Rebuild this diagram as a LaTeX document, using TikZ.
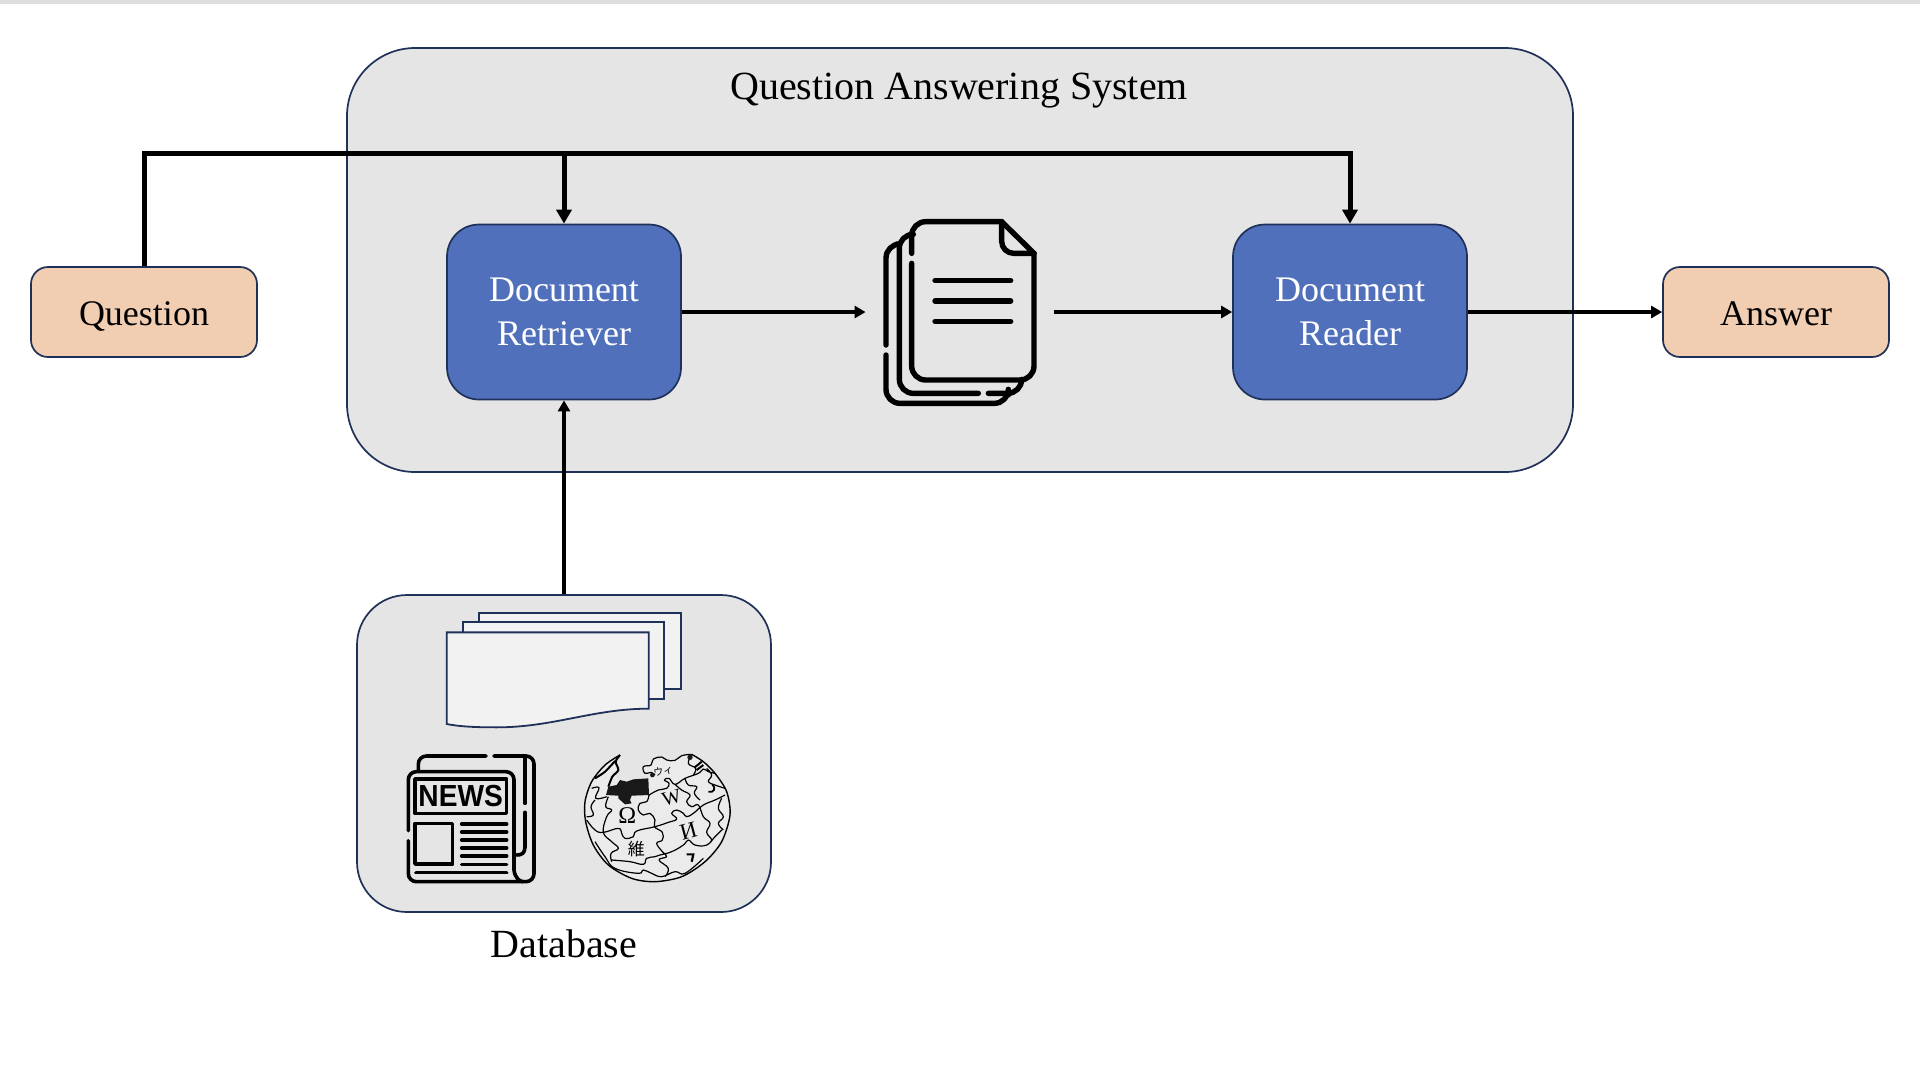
\documentclass[tikz,border=0pt]{standalone}
\usepackage{fontspec}
\setmainfont{Liberation Serif}
\newfontfamily\cjkfont{Noto Sans CJK JP}
\newfontfamily\newsfont{Liberation Sans}
\usetikzlibrary{arrows.meta,calc}
\definecolor{edgeblue}{HTML}{1F3158}
\definecolor{panelgrey}{HTML}{E5E5E5}
\definecolor{moduleblue}{HTML}{5070BC}
\definecolor{peach}{HTML}{F1CDB1}
\definecolor{sheetgrey}{HTML}{F2F2F2}
\tikzset{
    panelbox/.style={draw=edgeblue,fill=panelgrey,line width=.85pt,rounded corners=#1,inner sep=0pt},
    modulebox/.style={draw=edgeblue,fill=moduleblue,text=white,line width=.85pt,rounded corners=16pt,
        minimum width=117pt,minimum height=87.5pt,align=center,inner sep=0pt,font=\fontsize{18}{22}\selectfont},
    endbox/.style={draw=edgeblue,fill=peach,line width=.85pt,rounded corners=8.5pt,
        minimum width=113pt,minimum height=45pt,inner sep=0pt,text height=13pt,text depth=0pt,font=\fontsize{18}{22}\selectfont},
    caption/.style={inner sep=0pt,font=\fontsize{20}{24}\selectfont},
    busline/.style={line width=2.5pt,-{Stealth[inset=0pt,length=7pt,width=7.5pt]}},
    flowline/.style={line width=1.9pt,-{Stealth[inset=0pt,length=5.5pt,width=6pt]}},
    sheet/.style={draw=edgeblue,fill=sheetgrey,line width=.9pt},
    iconline/.style={line width=2.7pt,line cap=round,line join=round},
    newsline/.style={line width=1.8pt,line cap=round,line join=round},
    puzzleline/.style={line width=.6pt,line join=round}
}
\begin{document}
\begin{tikzpicture}[x=.5pt,y=-.5pt]
    \useasboundingbox (0,0) rectangle (1920,1084);
    \fill[black!13] (0,0) rectangle (1920,3.5);
    \node[panelbox=34pt,minimum width=613pt,minimum height=212pt] at (960,260) (system) {};
    \node[caption] at (959,91) (systemlabel) {Question Answering System};
    \node[modulebox] at (564,312) (retriever) {Document\\Retriever};
    \node[modulebox] at (1350,312) (reader) {Document\\Reader};
    \node[endbox] at (144,312) (question) {Question};
    \node[endbox] at (1776,312) (answer) {Answer};
    \node[inner sep=0pt,minimum width=94pt,minimum height=80pt] at (960,312) (docs) {};
    \node[panelbox=25pt,minimum width=207pt,minimum height=158.5pt] at (564,753.5) (database) {};
    \node[caption] at (564,944) (databaselabel) {Database};
    \coordinate (fork) at (retriever.north|-0,153);
    \draw[busline] (question.north) |- (fork) -| (reader.north);
    \draw[busline] (fork) -- (retriever.north);
    \draw[flowline] (retriever.east) -- (docs.west);
    \draw[flowline] (docs.east) -- (reader.west);
    \draw[flowline] (reader.east) -- (answer.west);
    \draw[flowline] (database.north) -- (retriever.south);
    \begin{scope}[shift={(860,200)},scale=1/3]
        \draw[iconline,rounded corners=7pt] (155,160) -- (155,65) -- (425,65);
        \draw[iconline] (425,65) -- (522,160);
        \draw[iconline,rounded corners=7pt] (522,160) -- (522,540) -- (155,540) -- (155,190);
        \draw[iconline,rounded corners=6pt] (425,65) -- (425,160) -- (522,160);
        \foreach \y in {242,303,364}
            \draw[iconline] (225,\y) -- (452,\y);
        \draw[iconline,rounded corners=7pt] (150,103) -- (118,103) -- (118,580) -- (355,580);
        \draw[iconline,rounded corners=7pt] (385,580) -- (485,580) -- (485,545);
        \draw[iconline,rounded corners=7pt] (110,132) -- (78,132) -- (78,435);
        \draw[iconline,rounded corners=7pt] (78,465) -- (78,610) -- (445,610) -- (445,585);
    \end{scope}
    \begin{scope}[shift={(340,580)},scale=1/3]
        \draw[sheet] (416,98) rectangle (1024,328);
        \draw[sheet] (368,127) rectangle (972,358);
        \draw[sheet] (320,157) -- (926,157) -- (926,386)
            .. controls (760,386) and (640,442) .. (470,442)
            .. controls (410,442) and (360,440) .. (320,432) -- cycle;
        \draw[newsline,rounded corners=4pt] (235,570) -- (235,528) -- (438,528);
        \draw[newsline,rounded corners=4pt] (462,528) -- (582,528) -- (582,905) -- (205,905) -- (205,782);
        \draw[newsline,rounded corners=4pt] (205,752) -- (205,575) -- (522,575) -- (522,870);
        \draw[newsline] (522,870) .. controls (525,895) and (540,905) .. (550,905);
        \draw[newsline] (555,535) -- (555,670) (555,697) -- (555,800);
        \draw[newsline] (555,800) .. controls (555,820) and (545,825) .. (530,825);
        \draw[newsline,line cap=butt] (225,597) rectangle (500,700);
        \draw[newsline,line cap=butt] (225,730) rectangle (338,852);
        \foreach \y in {732,756,780,804,828,853}
            \draw[newsline] (365,\y) -- (500,\y);
        \draw[newsline] (228,878) -- (500,878);
        \node[inner sep=0pt,font=\newsfont\bfseries\fontsize{14.5}{14.5}\selectfont] at (362,649) (newstitle) {\scalebox{.97}[1.05]{NEWS}};
    \end{scope}
    \begin{scope}[shift={(575,745)},scale=1/3]
        \fill[black!8] plot[smooth cycle] coordinates {(135,30) (90,60) (50,110) (30,170) (32,230) (55,300) (100,360) (170,400) (240,410) (320,395) (390,350) (440,290) (465,210) (455,140) (420,85) (385,50) (350,28) (295,42) (235,45) (205,70) (222,100) (130,105) (125,60)};
        \draw[puzzleline,line width=.7pt] plot[smooth] coordinates {(135,30) (90,60) (50,110) (30,170) (32,230) (55,300) (100,360) (170,400) (240,410) (320,395) (390,350) (440,290) (465,210) (455,140) (420,85) (385,50) (350,28)};
        \draw[puzzleline] plot[smooth,tension=.7] coordinates {(350,28) (320,32) (300,46) (275,45) (260,36) (235,42) (228,60) (205,65) (210,85) (228,82) (240,90)}
            plot[smooth,tension=.7] coordinates {(222,150) (250,135) (275,130) (282,115) (268,105) (282,100) (300,118) (330,100) (370,85) (385,72) (400,80) (420,85)}
            plot[smooth,tension=.7] coordinates {(35,225) (60,255) (85,262) (130,250) (140,265) (150,280) (175,275) (185,258) (240,245) (280,232) (305,222) (290,205) (305,195) (325,205) (335,215) (355,205) (385,180) (420,165) (450,150)}
            plot[smooth,tension=.7] coordinates {(110,345) (165,350) (205,358) (215,340) (240,335) (255,330) (290,320) (325,300) (340,285) (360,300) (395,300) (420,275) (440,255)}
            plot[smooth,tension=.7] coordinates {(100,155) (92,185) (110,195) (95,215) (85,262) (110,290) (130,310) (108,325) (110,350)}
            plot[smooth,tension=.7] coordinates {(222,150) (215,170) (195,175) (190,195) (205,210) (225,205) (240,225) (238,245) (262,262) (262,285) (245,295) (262,320) (275,335) (252,345) (280,370) (270,395)}
            plot[smooth,tension=.7] coordinates {(300,118) (320,135) (345,150) (335,170) (350,185) (370,180) (385,215) (405,235) (395,262) (410,285) (395,300)}
            plot[smooth,tension=.7] coordinates {(330,100) (340,120) (365,125) (358,145) (375,165)}
            plot[smooth,tension=.7] coordinates {(350,28) (340,55) (362,70) (355,90)}
            plot[smooth,tension=.7] coordinates {(60,290) (90,335) (120,370) (190,385) (205,375) (230,385) (260,395) (300,380) (330,385) (385,340)}
            plot[smooth,tension=.7] coordinates {(50,130) (72,128) (62,160) (95,155)}
            plot[smooth,tension=.7] coordinates {(440,160) (430,190) (445,215) (430,235) (445,255)}
            plot[smooth,tension=.7] coordinates {(35,215) (55,210) (48,185) (60,165)}
            plot[smooth,tension=.7] coordinates {(395,70) (410,90) (400,110) (420,120) (450,130)};
        \draw[puzzleline,line width=1pt] plot[smooth] coordinates {(135,30) (122,50) (130,75) (112,95) (100,125)}
            plot[smooth] coordinates {(60,100) (90,80) (120,48)};
        \fill[black!90] (93,150) -- (100,125) -- (125,120) -- (135,105) -- (155,110) -- (175,103) -- (220,100) -- (222,150) -- (170,152) -- (165,165) -- (170,175) -- (150,178) -- (130,160) -- (130,152) -- cycle;
        \fill[black!90] (345,37) circle (8) (232,90) circle (7);
        \draw[line width=1pt] (358,68) -- (380,50) (365,75) -- (385,60);
        \draw[line width=1.1pt] (335,328) -- (355,328) -- (350,350);
        \draw[line width=.9pt] (412,118) .. controls (425,130) and (415,145) .. (400,140);
        \node[inner sep=0pt,font=\fontsize{12}{12}\selectfont] at (157,213) (omega) {Ω};
        \node[inner sep=0pt,font=\fontsize{10}{10}\selectfont,rotate=15] at (290,158) (wletter) {W};
        \node[inner sep=0pt,font=\fontsize{11.5}{11.5}\selectfont,rotate=15] at (340,258) (iletter) {И};
        \node[inner sep=0pt,font=\cjkfont\fontsize{8.5}{8.5}\selectfont] at (184,312) (weiletter) {維};
        \node[inner sep=0pt,font=\cjkfont\fontsize{5}{5}\selectfont,rotate=10] at (265,78) (wikana) {ウィ};
    \end{scope}
\end{tikzpicture}
\end{document}
